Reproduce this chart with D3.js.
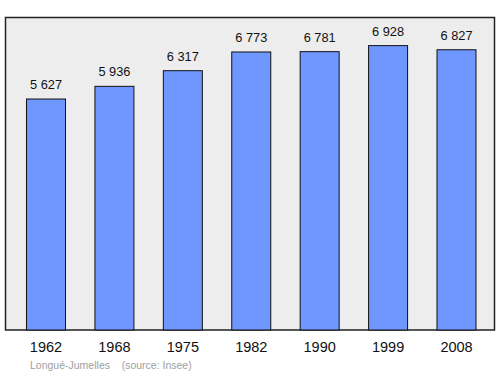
<!DOCTYPE html>
<html><head><meta charset="utf-8">
<script src="https://cdn.jsdelivr.net/npm/d3@7"></script>
<style>body{margin:0;background:#fff}svg{display:block}</style>
</head><body>
<script>
const years = ["1962","1968","1975","1982","1990","1999","2008"];
const population = [5627,5936,6317,6773,6781,6928,6827];
const valueLabels = ["5 627","5 936","6 317","6 773","6 781","6 928","6 827"];
const caption = "Longué-Jumelles    (source: Insee)";

const W=500,H=374;
const svg=d3.select("body").append("svg").attr("width",W).attr("height",H);
const plot={left:5.5,top:17.5,right:494.5,bottom:330};
svg.append("rect").attr("x",plot.left).attr("y",plot.top)
  .attr("width",plot.right-plot.left).attr("height",plot.bottom-plot.top)
  .attr("fill","#ededed").attr("stroke","#222").attr("stroke-width",1.5);

const x=d3.scaleBand().domain(years).range([26.5,476]).paddingInner(0.43).paddingOuter(0);
const y=d3.scaleLinear().domain([0,7625]).range([330,17]);

svg.selectAll("rect.bar").data(population).enter().append("rect").attr("class","bar")
  .attr("x",(d,i)=>x(years[i])).attr("y",d=>y(d))
  .attr("width",x.bandwidth()).attr("height",d=>330-y(d))
  .attr("fill","#7097ff").attr("stroke","#111").attr("stroke-width",1);

svg.selectAll("text.val").data(population).enter().append("text").attr("class","val")
  .attr("x",(d,i)=>x(years[i])+x.bandwidth()/2).attr("y",d=>y(d)-10)
  .attr("text-anchor","middle").attr("font-family","Liberation Sans, Arial, sans-serif")
  .attr("font-size",12.8).attr("fill","#111").text((d,i)=>valueLabels[i]);

const xAxis=svg.append("g").attr("transform","translate(0,330)")
  .call(d3.axisBottom(x).tickSize(0).tickPadding(0));
xAxis.select(".domain").remove();
xAxis.selectAll("text").attr("dy",0).attr("y",22.3)
  .attr("font-family","Liberation Sans, Arial, sans-serif").attr("font-size",14.5).attr("fill","#111");

svg.append("text").attr("x",30).attr("y",368.5).attr("font-family","Liberation Sans, Arial, sans-serif")
  .attr("font-size",10.5).attr("fill","#a0a0a0").attr("xml:space","preserve").style("white-space","pre").text(caption);
</script>
</body></html>
